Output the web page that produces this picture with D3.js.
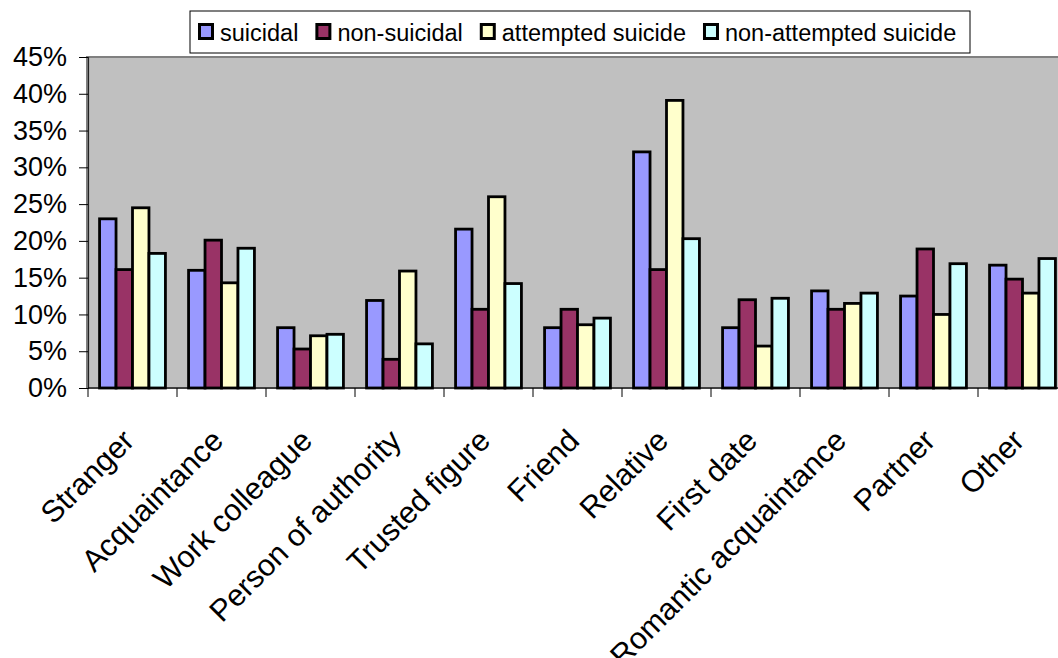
<!DOCTYPE html>
<html><head><meta charset="utf-8">
<script src="https://cdn.jsdelivr.net/npm/d3@7"></script>
<style>
html,body{margin:0;padding:0;background:#fff;overflow:hidden}
text{font-family:"Liberation Sans",Arial,sans-serif;fill:#000}
</style></head>
<body><svg id="c" width="1058" height="658"></svg>
<script>
const categories = ["Stranger","Acquaintance","Work colleague","Person of authority","Trusted figure","Friend","Relative","First date","Romantic acquaintance","Partner","Other"];
const seriesNames = ["suicidal","non-suicidal","attempted suicide","non-attempted suicide"];
const suicidal = [23.0, 16.0, 8.2, 11.9, 21.6, 8.2, 32.1, 8.2, 13.2, 12.5, 16.7];
const nonSuicidal = [16.1, 20.1, 5.3, 3.9, 10.7, 10.7, 16.1, 12.0, 10.7, 18.9, 14.8];
const attempted = [24.5, 14.3, 7.1, 15.9, 26.0, 8.6, 39.1, 5.7, 11.5, 10.0, 12.9];
const nonAttempted = [18.3, 19.0, 7.3, 6.0, 14.2, 9.5, 20.3, 12.2, 12.9, 16.9, 17.6];
const yTicks = [0,5,10,15,20,25,30,35,40,45];
const colors = ["#9999FF","#993366","#FFFFCC","#CCFFFF"];

(function(){
const series = [suicidal, nonSuicidal, attempted, nonAttempted];
const svg = d3.select("#c");
const pL = 88, pT = 57, pB = 388, pR = 1067;

const x = d3.scaleBand().domain(categories).range([pL, pR]).padding(0);
const bw = x.bandwidth();
const xs = d3.scaleBand().domain(d3.range(4)).range([bw*0.13, bw*0.87]).padding(0);
const y = d3.scaleLinear().domain([0,45]).range([pB, pT]);

// plot area
svg.append("rect").attr("x", pL-1).attr("y", pT).attr("width", pR-pL+10).attr("height", pB-pT)
  .attr("fill","#C0C0C0").attr("stroke","#808080").attr("stroke-width",2);

// bars
const g = svg.append("g");
categories.forEach((c,i)=>{
  series.forEach((s,k)=>{
    g.append("rect")
      .attr("x", x(c)+xs(k)).attr("y", y(s[i]))
      .attr("width", xs.bandwidth()).attr("height", y(0)-y(s[i]))
      .attr("fill", colors[k]).attr("stroke","#000").attr("stroke-width",2.8);
  });
});

// y axis
const ya = svg.append("g").attr("transform",`translate(${pL},0)`)
  .call(d3.axisLeft(y).tickValues(yTicks).tickSize(9).tickPadding(12).tickFormat(d=>d+"%"));
ya.select(".domain").attr("stroke","#222").attr("stroke-width",1.2);
ya.selectAll(".tick line").attr("stroke","#000");
ya.selectAll(".tick text").attr("font-size",27).attr("font-family","Liberation Sans, Arial, sans-serif").attr("fill","#000");

// x axis line and ticks
svg.append("line").attr("x1",pL).attr("x2",pR).attr("y1",pB).attr("y2",pB).attr("stroke","#000").attr("stroke-width",1.2);
const bounds = categories.map(c=>x(c));
svg.selectAll(".xt").data(bounds).enter().append("line")
  .attr("x1",d=>d).attr("x2",d=>d).attr("y1",pB).attr("y2",pB+9).attr("stroke","#000");

// x labels
svg.selectAll(".xl").data(categories).enter().append("text")
  .attr("transform", d=>`translate(${x(d)+bw/2-4},${pB+47}) rotate(-45)`)
  .attr("text-anchor","end").attr("dy","0.35em").attr("font-size",30.5).text(d=>d);

// legend
const lg = svg.append("g");
lg.append("rect").attr("x",190).attr("y",11).attr("width",780).attr("height",42)
  .attr("fill","#fff").attr("stroke","#000").attr("stroke-width",1);
let cx = 198;
seriesNames.forEach((n,k)=>{
  lg.append("rect").attr("x",cx+1.5).attr("y",24.5).attr("width",13).attr("height",14)
    .attr("fill",colors[k]).attr("stroke","#000").attr("stroke-width",3);
  const t = lg.append("text").attr("x",cx+22).attr("y",41).attr("font-size",23.5).text(n);
  cx += 22 + t.node().getComputedTextLength() + 17;
});
})();
</script></body></html>
